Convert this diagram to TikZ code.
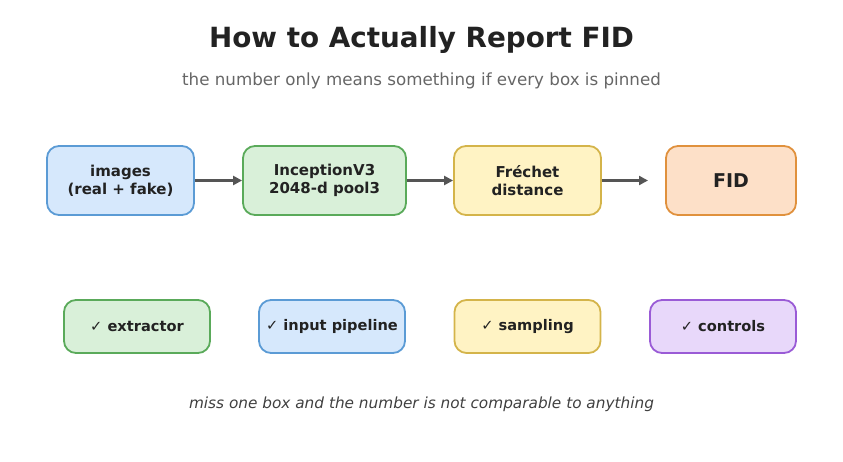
\documentclass[tikz,border=0pt]{standalone}
\usepackage{fontspec}
\setmainfont{DejaVu Sans}
\usetikzlibrary{arrows.meta}
\definecolor{bluef}{HTML}{D6E8FC}\definecolor{blued}{HTML}{5B9BD5}
\definecolor{greenf}{HTML}{D9F0D9}\definecolor{greend}{HTML}{5AAA5A}
\definecolor{yellf}{HTML}{FFF3C4}\definecolor{yelld}{HTML}{D4B44A}
\definecolor{oranf}{HTML}{FDE0C8}\definecolor{orand}{HTML}{E0913D}
\definecolor{purpf}{HTML}{E8D8FA}\definecolor{purpd}{HTML}{9A5BD6}
\definecolor{txt}{HTML}{222222}
\definecolor{arr}{HTML}{555555}
\begin{document}
\begin{tikzpicture}[x=1pt,y=1pt,
  boxbase/.style={rounded corners=12pt, line width=1.8pt, align=center, inner sep=0pt,
    font=\fontsize{15}{18}\selectfont\bfseries, text=txt},
  toprow/.style={boxbase, minimum height=69pt},
  botrow/.style={boxbase, minimum height=53pt, minimum width=146pt, font=\fontsize{14.6}{18}\selectfont\bfseries},
  bluebox/.style={fill=bluef, draw=blued},
  greenbox/.style={fill=greenf, draw=greend},
  yellbox/.style={fill=yellf, draw=yelld},
  oranbox/.style={fill=oranf, draw=orand},
  purpbox/.style={fill=purpf, draw=purpd},
  flow/.style={-{Triangle[length=9pt,width=9pt]}, line width=2.2pt, draw=arr, fill=arr}
]
\useasboundingbox (0,0) rectangle (843,461);
\node (title) at (421.5,421) {\fontsize{27.8}{32}\selectfont\bfseries\color{txt}How to Actually Report FID};
\node (sub) at (421.5,380) {\fontsize{16.7}{20}\selectfont\color{black!60}the number only means something if every box is pinned};

\node[toprow, bluebox, minimum width=147pt] (img) at (120.5,280.5) {images\\(real + fake)};
\node[toprow, greenbox, minimum width=163pt] (inc) at (324.5,280.5) {InceptionV3\\2048-d pool3};
\node[toprow, yellbox, minimum width=147pt] (fre) at (527.5,280.5) {Fréchet\\distance};
\node[toprow, oranbox, minimum width=130pt, font=\fontsize{19}{22}\selectfont\bfseries] (fid) at (731,280.5) {FID};
\coordinate (fidin) at (648,280.5);

\draw[flow] (img) -- (inc);
\draw[flow] (inc) -- (fre);
\draw[flow] (fre.east) -- (fidin);

\node[botrow, greenbox] (ext) at (137,134.5) {✓ extractor};
\node[botrow, bluebox] (pipe) at (332,134.5) {✓ input pipeline};
\node[botrow, yellbox] (samp) at (527.5,134.5) {✓ sampling};
\node[botrow, purpbox] (ctrl) at (723,134.5) {✓ controls};

\node (foot) at (421.5,57) {\fontsize{15.3}{18}\selectfont\itshape\color{black!75}miss one box and the number is not comparable to anything};
\end{tikzpicture}
\end{document}
